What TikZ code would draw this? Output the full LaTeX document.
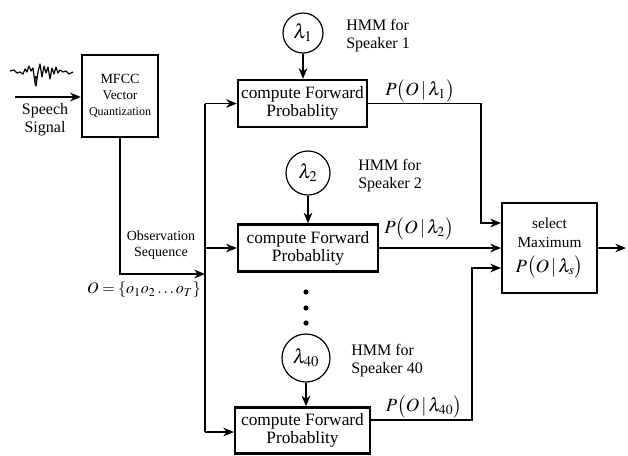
\documentclass[tikz,border=0pt]{standalone}
\usepackage{amsmath}
\usepackage{mathptmx}
\usepackage{fontspec}
\setmainfont{Liberation Serif}
\usepackage{tikz}
\usetikzlibrary{arrows.meta,calc}

\tikzset{
  >={Stealth[length=8pt,width=6.5pt,inset=2.5pt]},
  blk/.style={draw,line width=1.8pt,align=center,inner sep=1pt},
  hmm/.style={draw,circle,line width=0.9pt,inner sep=0pt},
  wire/.style={line width=1.1pt},
  txt/.style={align=center,inner sep=0pt}
}

\begin{document}
\begin{tikzpicture}[x=0.75pt,y=-0.75pt]
\useasboundingbox (0,0) rectangle (628,455);
% blocks
\node[blk,minimum width=57pt,minimum height=61.5pt] (mfcc) at (120,96)
  {\fontsize{10.5}{12.5}\selectfont MFCC\\Vector\\\fontsize{9}{11}\selectfont Quantization};
\node[blk,minimum width=96.75pt,minimum height=35.25pt,font=\fontsize{13}{13.5}\selectfont] (fwd1) at (302.5,103.5) {compute Forward\\Probablity};
\node[blk,minimum width=105pt,minimum height=35.25pt,font=\fontsize{13}{13.5}\selectfont] (fwd2) at (308,248) {compute Forward\\Probablity};
\node[blk,minimum width=101pt,minimum height=34.5pt,font=\fontsize{13}{13.5}\selectfont] (fwd3) at (302.5,430.5) {compute Forward\\Probablity};
\node[blk,minimum width=71pt,minimum height=67.5pt,font=\fontsize{11.5}{14.5}\selectfont] (sel) at (549.5,248)
  {select\\Maximum\\[4pt]\fontsize{14}{16}\selectfont$P\bigl(O\,|\,\lambda_s\bigr)$};
% speaker models
\node[hmm,minimum size=30pt,font=\fontsize{15}{15}\selectfont] (lam1) at (303,33) {$\lambda_1$};
\node[hmm,minimum size=33pt,font=\fontsize{15}{15}\selectfont] (lam2) at (308,173) {$\lambda_2$};
\node[hmm,minimum size=36pt,font=\fontsize{15}{15}\selectfont] (lam3) at (306,358) {$\lambda_{40}$};
\node[txt,anchor=west,font=\fontsize{12}{13.5}\selectfont,align=left] (spk1) at (346,36) {HMM for\\Speaker 1};
\node[txt,anchor=west,font=\fontsize{12}{13.5}\selectfont,align=left] (spk2) at (358,176) {HMM for\\Speaker 2};
\node[txt,anchor=west,font=\fontsize{12}{13.5}\selectfont,align=left] (spk3) at (351,361) {HMM for\\Speaker 40};
% labels
\node[txt,font=\fontsize{12}{13.5}\selectfont] (sig) at (45,120) {Speech\\Signal};
\node[txt,font=\fontsize{10.5}{12}\selectfont] (obs) at (161,245) {Observation\\Sequence};
\node[txt,font=\fontsize{12}{12}\selectfont] (oseq) at (144,290) {$O=\{o_1o_2\ldots o_T\}$};
\node[txt,font=\fontsize{14}{16}\selectfont] (p1) at (420,91) {$P\bigl(O\,|\,\lambda_1\bigr)$};
\node[txt,font=\fontsize{14}{16}\selectfont] (p2) at (419,229) {$P\bigl(O\,|\,\lambda_2\bigr)$};
\node[txt,font=\fontsize{14}{16}\selectfont] (p3) at (424,407) {$P\bigl(O\,|\,\lambda_{40}\bigr)$};
% speech waveform
\draw[line width=0.9pt,line join=round] (10,71) -- (14,70) -- (17,73) -- (20,72) -- (23,74) -- (25,69)
  -- (27,72) -- (29,66) -- (31,71) -- (33,68) -- (35,83) -- (36,86) -- (38,72) -- (40,64) -- (42,77)
  -- (44,66) -- (46,73) -- (48,67) -- (50,79) -- (52,68) -- (54,74) -- (56,67) -- (58,73) -- (60,70)
  -- (63,72) -- (66,71) -- (69,74) -- (73,72);
\fill (35,76) -- (36,86) -- (37,76) -- cycle;
% wires
\coordinate (sin) at (15,97);
\coordinate (obsin) at (205,274);
\coordinate (bustop) at (205,103.5);
\coordinate (busbot) at (205,432);
\coordinate (j1) at (481,223);
\coordinate (j3a) at (472,420);
\coordinate (j3) at (472,268);
\coordinate (out) at (626,248);
\draw[wire,->] (sin) -- (sin -| mfcc.west);
\draw[wire,->] (mfcc.south) |- (obsin);
\draw[wire] (bustop) -- (busbot);
\draw[wire,->] (bustop) -- (fwd1.west);
\draw[wire,->] (bustop |- fwd2.west) -- (fwd2.west);
\draw[wire,->] (busbot) -- (busbot -| fwd3.west);
\draw[wire,->] (lam1.south) -- (lam1 |- fwd1.north);
\draw[wire,->] (lam2.south) -- (lam2 |- fwd2.north);
\draw[wire,->] (lam3.south) -- (lam3 |- fwd3.north);
\draw[wire,->] (fwd1.east) -| (j1) -- (j1 -| sel.west);
\draw[wire,->] (fwd2.east) -- (sel.west);
\draw[wire,->] (fwd3.east |- j3a) -- (j3a) -- (j3) -- (j3 -| sel.west);
\draw[wire,->] (sel.east) -- (out);
% dots
\foreach \y in {292,308,323} \fill (306,\y) circle (2.6);
\end{tikzpicture}
\end{document}
